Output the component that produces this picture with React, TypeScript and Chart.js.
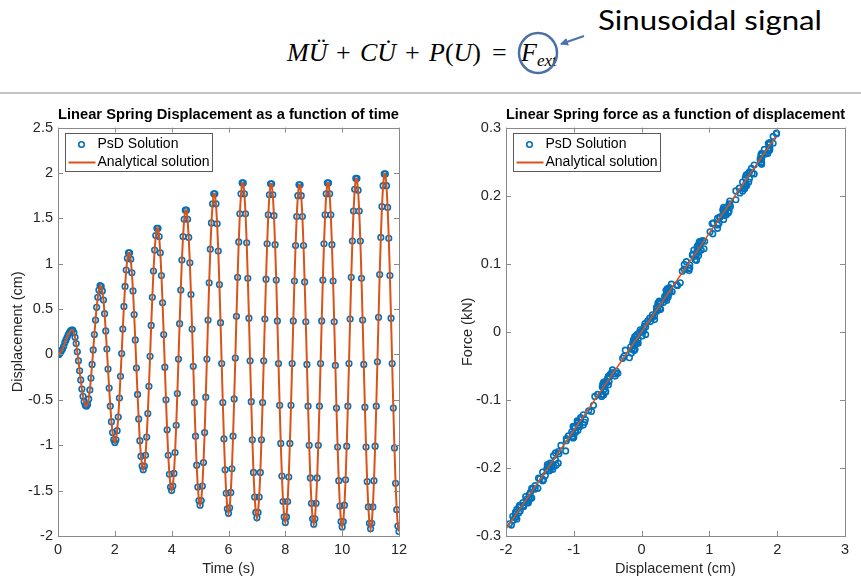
import React, { useEffect, useRef } from 'react';
import { Chart, registerables } from 'chart.js';

Chart.register(...registerables);

// ---------- DATA ----------
// time samples (s)
const TIME = [
  0, 0.04, 0.08, 0.12, 0.16, 0.2, 0.24, 0.28, 0.32, 0.36, 0.4, 0.44, 0.48, 0.52, 0.56, 0.6, 0.64, 0.68, 0.72, 0.76, 0.8, 0.84, 0.88, 0.92, 0.96,
  1, 1.04, 1.08, 1.12, 1.16, 1.2, 1.24, 1.28, 1.32, 1.36, 1.4, 1.44, 1.48, 1.52, 1.56, 1.6, 1.64, 1.68, 1.72, 1.76, 1.8, 1.84, 1.88, 1.92, 1.96,
  2, 2.04, 2.08, 2.12, 2.16, 2.2, 2.24, 2.28, 2.32, 2.36, 2.4, 2.44, 2.48, 2.52, 2.56, 2.6, 2.64, 2.68, 2.72, 2.76, 2.8, 2.84, 2.88, 2.92, 2.96,
  3, 3.04, 3.08, 3.12, 3.16, 3.2, 3.24, 3.28, 3.32, 3.36, 3.4, 3.44, 3.48, 3.52, 3.56, 3.6, 3.64, 3.68, 3.72, 3.76, 3.8, 3.84, 3.88, 3.92, 3.96,
  4, 4.04, 4.08, 4.12, 4.16, 4.2, 4.24, 4.28, 4.32, 4.36, 4.4, 4.44, 4.48, 4.52, 4.56, 4.6, 4.64, 4.68, 4.72, 4.76, 4.8, 4.84, 4.88, 4.92, 4.96,
  5, 5.04, 5.08, 5.12, 5.16, 5.2, 5.24, 5.28, 5.32, 5.36, 5.4, 5.44, 5.48, 5.52, 5.56, 5.6, 5.64, 5.68, 5.72, 5.76, 5.8, 5.84, 5.88, 5.92, 5.96,
  6, 6.04, 6.08, 6.12, 6.16, 6.2, 6.24, 6.28, 6.32, 6.36, 6.4, 6.44, 6.48, 6.52, 6.56, 6.6, 6.64, 6.68, 6.72, 6.76, 6.8, 6.84, 6.88, 6.92, 6.96,
  7, 7.04, 7.08, 7.12, 7.16, 7.2, 7.24, 7.28, 7.32, 7.36, 7.4, 7.44, 7.48, 7.52, 7.56, 7.6, 7.64, 7.68, 7.72, 7.76, 7.8, 7.84, 7.88, 7.92, 7.96,
  8, 8.04, 8.08, 8.12, 8.16, 8.2, 8.24, 8.28, 8.32, 8.36, 8.4, 8.44, 8.48, 8.52, 8.56, 8.6, 8.64, 8.68, 8.72, 8.76, 8.8, 8.84, 8.88, 8.92, 8.96,
  9, 9.04, 9.08, 9.12, 9.16, 9.2, 9.24, 9.28, 9.32, 9.36, 9.4, 9.44, 9.48, 9.52, 9.56, 9.6, 9.64, 9.68, 9.72, 9.76, 9.8, 9.84, 9.88, 9.92, 9.96,
  10, 10.04, 10.08, 10.12, 10.16, 10.2, 10.24, 10.28, 10.32, 10.36, 10.4, 10.44, 10.48, 10.52, 10.56, 10.6, 10.64, 10.68, 10.72, 10.76, 10.8, 10.84, 10.88, 10.92, 10.96,
  11, 11.04, 11.08, 11.12, 11.16, 11.2, 11.24, 11.28, 11.32, 11.36, 11.4, 11.44, 11.48, 11.52, 11.56, 11.6, 11.64, 11.68, 11.72, 11.76, 11.8, 11.84, 11.88, 11.92, 11.96,
  12,
];

// displacement (cm) at each time sample
const DISPLACEMENT = [
  0, 0, 0.02, 0.04, 0.06, 0.09, 0.13, 0.16, 0.19, 0.22, 0.24, 0.26, 0.27, 0.27, 0.24, 0.19, 0.12, 0.03, -0.07, -0.18, -0.28, -0.38, -0.46, -0.52, -0.56,
  -0.57, -0.55, -0.49, -0.39, -0.26, -0.11, 0.05, 0.22, 0.38, 0.52, 0.63, 0.71, 0.76, 0.75, 0.7, 0.6, 0.45, 0.26, 0.06, -0.16, -0.37, -0.57, -0.74, -0.86, -0.94,
  -0.97, -0.94, -0.84, -0.69, -0.48, -0.24, 0.01, 0.28, 0.53, 0.75, 0.93, 1.06, 1.12, 1.12, 1.05, 0.9, 0.7, 0.44, 0.16, -0.15, -0.44, -0.71, -0.95, -1.12, -1.23,
  -1.27, -1.23, -1.11, -0.91, -0.65, -0.35, -0.02, 0.32, 0.63, 0.92, 1.15, 1.31, 1.39, 1.39, 1.3, 1.12, 0.87, 0.57, 0.22, -0.14, -0.5, -0.83, -1.11, -1.32, -1.46,
  -1.5, -1.45, -1.31, -1.08, -0.78, -0.43, -0.05, 0.34, 0.71, 1.04, 1.3, 1.49, 1.59, 1.59, 1.49, 1.29, 1.01, 0.66, 0.28, -0.13, -0.53, -0.9, -1.22, -1.46, -1.61,
  -1.66, -1.61, -1.45, -1.19, -0.86, -0.47, -0.05, 0.38, 0.79, 1.16, 1.45, 1.66, 1.77, 1.77, 1.66, 1.44, 1.14, 0.77, 0.35, -0.1, -0.53, -0.93, -1.27, -1.53, -1.7,
  -1.75, -1.69, -1.52, -1.26, -0.9, -0.49, -0.04, 0.42, 0.85, 1.24, 1.55, 1.77, 1.89, 1.89, 1.77, 1.55, 1.23, 0.84, 0.4, -0.07, -0.52, -0.94, -1.3, -1.57, -1.74,
  -1.8, -1.74, -1.57, -1.3, -0.94, -0.53, -0.07, 0.39, 0.83, 1.22, 1.54, 1.76, 1.88, 1.88, 1.76, 1.53, 1.21, 0.82, 0.37, -0.1, -0.56, -0.98, -1.34, -1.62, -1.79,
  -1.85, -1.79, -1.62, -1.35, -0.98, -0.56, -0.1, 0.37, 0.81, 1.2, 1.52, 1.75, 1.87, 1.87, 1.75, 1.52, 1.2, 0.8, 0.36, -0.11, -0.57, -1, -1.36, -1.64, -1.81,
  -1.87, -1.81, -1.64, -1.36, -1, -0.57, -0.1, 0.37, 0.82, 1.22, 1.54, 1.77, 1.89, 1.89, 1.77, 1.54, 1.21, 0.81, 0.36, -0.12, -0.59, -1.02, -1.39, -1.67, -1.84,
  -1.9, -1.84, -1.66, -1.38, -1.01, -0.57, -0.1, 0.39, 0.85, 1.25, 1.58, 1.82, 1.94, 1.94, 1.81, 1.58, 1.25, 0.84, 0.38, -0.11, -0.58, -1.02, -1.4, -1.68, -1.86,
  -1.92, -1.86, -1.68, -1.39, -1.01, -0.57, -0.08, 0.41, 0.88, 1.29, 1.63, 1.86, 1.99, 1.99, 1.86, 1.62, 1.28, 0.87, 0.4, -0.1, -0.59, -1.03, -1.42, -1.71, -1.89,
  -1.95,
];

// measured spring force (kN) at each PsD sample
const FORCE_PSD = [
  0, 0.001, 0.002, 0.008, 0.007, 0.016, 0.015, 0.025, 0.023, 0.036, 0.032, 0.043, 0.033, 0.034, 0.042, 0.018, 0.02, 0.001, -0.004, -0.038, -0.039, -0.062, -0.062, -0.076, -0.077,
  -0.08, -0.084, -0.065, -0.065, -0.036, -0.027, 0.012, 0.03, 0.063, 0.069, 0.092, 0.094, 0.114, 0.113, 0.093, 0.089, 0.059, 0.045, -0.004, -0.022, -0.058, -0.077, -0.117, -0.122, -0.138,
  -0.147, -0.134, -0.133, -0.095, -0.073, -0.027, -0.006, 0.042, 0.068, 0.113, 0.133, 0.16, 0.152, 0.167, 0.144, 0.134, 0.09, 0.07, 0.021, -0.031, -0.06, -0.108, -0.131, -0.175, -0.176,
  -0.188, -0.193, -0.157, -0.139, -0.092, -0.061, 0.003, 0.043, 0.099, 0.122, 0.168, 0.184, 0.207, 0.194, 0.192, 0.157, 0.133, 0.072, 0.034, -0.026, -0.068, -0.129, -0.16, -0.195, -0.206,
  -0.216, -0.217, -0.202, -0.153, -0.116, -0.056, -0.017, 0.052, 0.098, 0.159, 0.187, 0.207, 0.235, 0.225, 0.22, 0.177, 0.147, 0.103, 0.033, -0.016, -0.088, -0.126, -0.179, -0.219, -0.231,
  -0.246, -0.23, -0.218, -0.167, -0.137, -0.066, -0.011, 0.062, 0.106, 0.169, 0.204, 0.245, 0.254, 0.262, 0.232, 0.211, 0.159, 0.12, 0.048, -0.026, -0.073, -0.137, -0.178, -0.23, -0.246,
  -0.251, -0.251, -0.215, -0.196, -0.129, -0.078, -0.002, 0.058, 0.132, 0.175, 0.215, 0.259, 0.27, 0.278, 0.249, 0.231, 0.176, 0.112, 0.063, -0.016, -0.074, -0.145, -0.182, -0.231, -0.257,
  -0.255, -0.255, -0.226, -0.198, -0.132, -0.088, -0.007, 0.052, 0.127, 0.175, 0.215, 0.26, 0.267, 0.275, 0.248, 0.226, 0.165, 0.125, 0.05, -0.007, -0.093, -0.141, -0.2, -0.23, -0.263,
  -0.272, -0.255, -0.244, -0.193, -0.148, -0.074, -0.026, 0.056, 0.114, 0.18, 0.21, 0.255, 0.266, 0.277, 0.252, 0.212, 0.178, 0.111, 0.061, -0.019, -0.093, -0.14, -0.204, -0.236, -0.266,
  -0.273, -0.258, -0.245, -0.196, -0.155, -0.077, -0.019, 0.046, 0.122, 0.171, 0.23, 0.246, 0.276, 0.267, 0.26, 0.218, 0.183, 0.105, 0.053, -0.012, -0.092, -0.15, -0.198, -0.251, -0.261,
  -0.271, -0.275, -0.239, -0.204, -0.139, -0.093, -0.012, 0.051, 0.124, 0.172, 0.233, 0.261, 0.287, 0.277, 0.268, 0.22, 0.183, 0.117, 0.063, -0.027, -0.081, -0.154, -0.202, -0.251, -0.265,
  -0.284, -0.268, -0.248, -0.195, -0.156, -0.08, -0.017, 0.065, 0.12, 0.188, 0.233, 0.263, 0.291, 0.292, 0.262, 0.24, 0.175, 0.13, 0.056, -0.008, -0.095, -0.147, -0.211, -0.242, -0.277,
  -0.282,
];

// analytical force-displacement line (end points)
const LINE_DISP = [-2, 1.98];
const LINE_FORCE = [-0.29, 0.287];

const SERIES_LABELS = ['PsD Solution', 'Analytical solution'];
const LEFT_TITLE = 'Linear Spring Displacement as a function of time';
const RIGHT_TITLE = 'Linear Spring force as a function of displacement';

// ---------- STYLE ----------
const BLUE = '#0072BD';
const ORANGE = '#D95319';
const AXIS_COLOR = '#8a8a8a';
const TEXT_COLOR = '#262626';
const FONT = '"Liberation Sans", Arial, Helvetica, sans-serif';

const fmtTick = (v: number | string) => String(Number(Number(v).toFixed(3)));

function makeMatlabPlugin(legendDx: number, legendDy: number) {
  return {
    id: 'matlabAxes',
    afterDraw(chart: any) {
      const { ctx, chartArea: a, scales } = chart;
      const TL = 5;
      ctx.save();
      ctx.strokeStyle = AXIS_COLOR;
      ctx.lineWidth = 1;
      ctx.beginPath();
      for (const t of scales.x.ticks) {
        const px = Math.round(scales.x.getPixelForValue(t.value)) + 0.5;
        ctx.moveTo(px, a.bottom);
        ctx.lineTo(px, a.bottom - TL);
        ctx.moveTo(px, a.top);
        ctx.lineTo(px, a.top + TL);
      }
      for (const t of scales.y.ticks) {
        const py = Math.round(scales.y.getPixelForValue(t.value)) + 0.5;
        ctx.moveTo(a.left, py);
        ctx.lineTo(a.left + TL, py);
        ctx.moveTo(a.right, py);
        ctx.lineTo(a.right - TL, py);
      }
      ctx.stroke();
      ctx.strokeRect(Math.round(a.left) + 0.5, Math.round(a.top) + 0.5, Math.round(a.right - a.left), Math.round(a.bottom - a.top));

      // legend (MATLAB style, inside the axes)
      const lx = Math.round(a.left + legendDx) + 0.5;
      const ly = Math.round(a.top + legendDy) + 0.5;
      const lw = 147;
      const lh = 38;
      ctx.fillStyle = '#ffffff';
      ctx.fillRect(lx, ly, lw, lh);
      ctx.strokeStyle = '#5a5a5a';
      ctx.strokeRect(lx, ly, lw, lh);
      const ds = chart.data.datasets;
      const psd = ds.find((d: any) => d.label === SERIES_LABELS[0]);
      const ana = ds.find((d: any) => d.label === SERIES_LABELS[1]);
      ctx.strokeStyle = psd.borderColor;
      ctx.lineWidth = 1.6;
      ctx.beginPath();
      ctx.arc(lx + 16, ly + 11, 2.8, 0, Math.PI * 2);
      ctx.stroke();
      ctx.strokeStyle = ana.borderColor;
      ctx.lineWidth = 2;
      ctx.beginPath();
      ctx.moveTo(lx + 3, ly + 29);
      ctx.lineTo(lx + 30, ly + 29);
      ctx.stroke();
      ctx.fillStyle = '#000000';
      ctx.font = `14px ${FONT}`;
      ctx.textBaseline = 'middle';
      ctx.textAlign = 'left';
      ctx.fillText(psd.label, lx + 32, ly + 11);
      ctx.fillText(ana.label, lx + 32, ly + 29);
      ctx.restore();
    },
  };
}

function makeChart(
  canvas: HTMLCanvasElement,
  cfg: {
    title: string;
    datasets: any[];
    xMin: number; xMax: number; xStep: number; xTitle: string;
    yMin: number; yMax: number; yStep: number; yTitle: string;
    yWidth: number; xHeight: number; yTitlePad: number; rightPad: number;
  }
) {
  return new Chart(canvas, {
    type: 'scatter',
    data: { datasets: cfg.datasets },
    options: {
      responsive: false,
      animation: false,
      devicePixelRatio: 1,
      layout: { padding: { left: 0, right: cfg.rightPad, top: 0, bottom: 0 } },
      plugins: {
        legend: { display: false },
        tooltip: { enabled: false },
        title: {
          display: true,
          text: cfg.title,
          fullSize: false,
          color: '#000000',
          font: { family: FONT, size: 15.5, weight: 'bold', lineHeight: 1.2 },
          padding: { top: 5, bottom: 4 },
        },
      },
      scales: {
        x: {
          type: 'linear',
          min: cfg.xMin,
          max: cfg.xMax,
          grid: { display: false, drawTicks: false },
          border: { display: false },
          ticks: { stepSize: cfg.xStep, color: TEXT_COLOR, font: { family: FONT, size: 14.5 }, padding: 5, maxRotation: 0, callback: fmtTick },
          title: { display: true, text: cfg.xTitle, color: TEXT_COLOR, font: { family: FONT, size: 14.5 }, padding: { top: 0, bottom: 3 } },
          afterFit: (s: any) => { s.height = cfg.xHeight; },
        },
        y: {
          type: 'linear',
          min: cfg.yMin,
          max: cfg.yMax,
          grid: { display: false, drawTicks: false },
          border: { display: false },
          ticks: { stepSize: cfg.yStep, color: TEXT_COLOR, font: { family: FONT, size: 14.5 }, padding: 5, callback: fmtTick },
          title: { display: true, text: cfg.yTitle, color: TEXT_COLOR, font: { family: FONT, size: 14.5 }, padding: { top: cfg.yTitlePad, bottom: 0 } },
          afterFit: (s: any) => { s.width = cfg.yWidth; },
        },
      },
    } as any,
    plugins: [makeMatlabPlugin(7, 5)],
  });
}

export default function App() {
  const leftRef = useRef<HTMLCanvasElement>(null);
  const rightRef = useRef<HTMLCanvasElement>(null);

  useEffect(() => {
    const psdLeft = TIME.map((t, i) => ({ x: t, y: DISPLACEMENT[i] }));
    const anaLeft = TIME.map((t, i) => ({ x: t, y: DISPLACEMENT[i] }));
    const left = makeChart(leftRef.current!, {
      title: LEFT_TITLE,
      datasets: [
        {
          label: SERIES_LABELS[0], data: psdLeft, showLine: false, order: 1,
          borderColor: BLUE, backgroundColor: 'rgba(0,0,0,0)', pointStyle: 'circle',
          pointRadius: 2.8, pointBorderWidth: 1.6, pointBorderColor: BLUE, pointBackgroundColor: 'rgba(0,0,0,0)',
        },
        {
          label: SERIES_LABELS[1], data: anaLeft, showLine: true, order: 0,
          borderColor: ORANGE, borderWidth: 2, pointRadius: 0, tension: 0,
        },
      ],
      xMin: 0, xMax: 12, xStep: 2, xTitle: 'Time (s)',
      yMin: -2, yMax: 2.5, yStep: 0.5, yTitle: 'Displacement (cm)',
      yWidth: 58, xHeight: 45, yTitlePad: 9, rightPad: 31,
    });

    const psdRight = DISPLACEMENT.map((d, i) => ({ x: d, y: FORCE_PSD[i] }));
    const anaRight = LINE_DISP.map((d, i) => ({ x: d, y: LINE_FORCE[i] }));
    const right = makeChart(rightRef.current!, {
      title: RIGHT_TITLE,
      datasets: [
        {
          label: SERIES_LABELS[0], data: psdRight, showLine: false, order: 1,
          borderColor: BLUE, backgroundColor: 'rgba(0,0,0,0)', pointStyle: 'circle',
          pointRadius: 2.8, pointBorderWidth: 1.6, pointBorderColor: BLUE, pointBackgroundColor: 'rgba(0,0,0,0)',
        },
        {
          label: SERIES_LABELS[1], data: anaRight, showLine: true, order: 0,
          borderColor: ORANGE, borderWidth: 1.5, pointRadius: 0, tension: 0,
        },
      ],
      xMin: -2, xMax: 3, xStep: 1, xTitle: 'Displacement (cm)',
      yMin: -0.3, yMax: 0.3, yStep: 0.1, yTitle: 'Force (kN)',
      yWidth: 76, xHeight: 45, yTitlePad: 29, rightPad: 16,
    });

    return () => {
      left.destroy();
      right.destroy();
    };
  }, []);

  const eqFont = '"Liberation Serif", "DejaVu Serif", serif';

  return (
    <div style={{ position: 'absolute', left: 0, top: 0, width: 861, height: 581, background: '#ffffff', overflow: 'hidden' }}>
      <svg width={861} height={100} style={{ position: 'absolute', left: 0, top: 0 }}>
        <defs>
          <marker id="ah" markerWidth="8" markerHeight="8" refX="7" refY="4" orient="auto" markerUnits="userSpaceOnUse">
            <path d="M0,0 L8,4 L0,8 z" fill="#4a72b0" />
          </marker>
        </defs>
        <g fontFamily={eqFont} fontSize={26} fill="#000">
          <text x={287} y={61} fontStyle="italic">MÜ</text>
          <text x={336} y={61}>+</text>
          <text x={360} y={61} fontStyle="italic">CU̇</text>
          <text x={405} y={61}>+</text>
          <text x={429} y={61}>
            <tspan fontStyle="italic">P</tspan>
            <tspan>(</tspan>
            <tspan fontStyle="italic">U</tspan>
            <tspan>)</tspan>
          </text>
          <text x={492} y={61}>=</text>
          <text x={521} y={61}>
            <tspan fontStyle="italic">F</tspan>
            <tspan fontStyle="italic" fontSize={17} dy={5}>ext</tspan>
          </text>
        </g>
        <ellipse cx={538} cy={53} rx={19} ry={20} fill="none" stroke="#4a6fa5" strokeWidth={2.5} />
        <line x1={584} y1={36} x2={561} y2={44} stroke="#4a72b0" strokeWidth={2} markerEnd="url(#ah)" />
        <text x={598} y={30} fontFamily='Lato, "Open Sans", sans-serif' fontSize={26} fill="#000" textLength={224} lengthAdjust="spacingAndGlyphs">Sinusoidal signal</text>
        <line x1={0} y1={93} x2={861} y2={93} stroke="#c4c4c4" strokeWidth={2} />
      </svg>
      <canvas ref={leftRef} width={430} height={481} style={{ position: 'absolute', left: 0, top: 100, width: 430, height: 481 }} />
      <canvas ref={rightRef} width={431} height={481} style={{ position: 'absolute', left: 430, top: 100, width: 431, height: 481 }} />
    </div>
  );
}
